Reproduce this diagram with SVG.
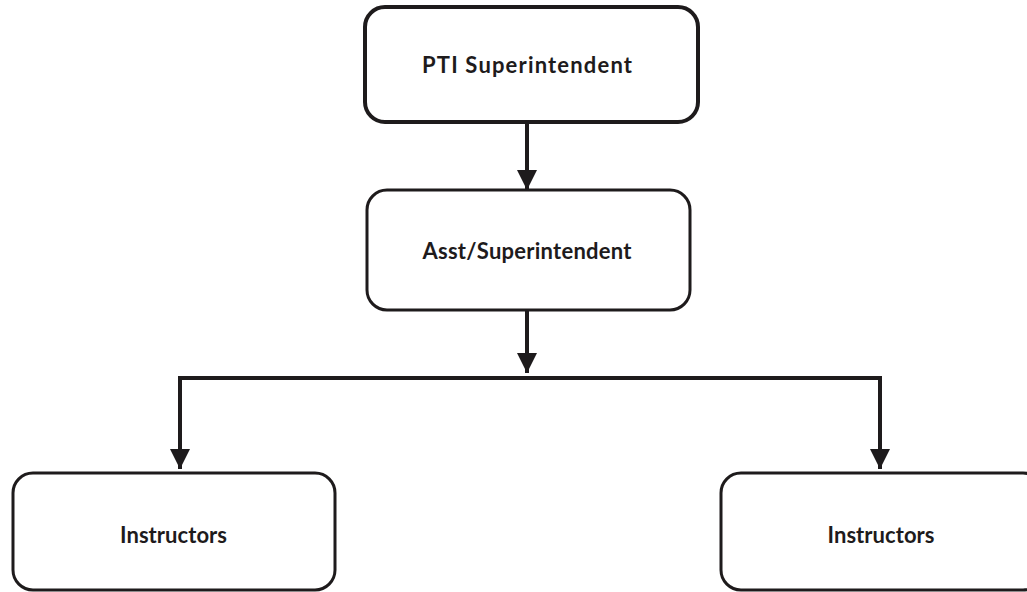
<svg xmlns="http://www.w3.org/2000/svg" width="1027" height="592" viewBox="0 0 1027 592">
<style>
.box{fill:#fff;stroke:#1e1b1c;stroke-width:3}
.lbl{font-family:Lato,"Open Sans",sans-serif;font-weight:bold;font-size:22px;fill:#1e1b1c;text-anchor:middle}
.con{fill:none;stroke:#1e1b1c;stroke-width:4}
</style>
<defs>
<marker id="ah" markerUnits="userSpaceOnUse" markerWidth="20" markerHeight="20" refX="20" refY="10" orient="auto" viewBox="0 0 20 20">
<path d="M0,0 L20,10 L0,20 Z" fill="#1e1b1c"/>
</marker>
</defs>
<rect width="1027" height="592" fill="#fff"/>
<g id="connectors">
<path class="con" d="M527,122 V190" marker-end="url(#ah)"/>
<path class="con" d="M527,310 V373" marker-end="url(#ah)"/>
<path class="con" d="M180,469 V378 H880 V469" stroke-linejoin="miter"/>
<path class="con" d="M180,440 V469" marker-end="url(#ah)"/>
<path class="con" d="M880,440 V469" marker-end="url(#ah)"/>
</g>
<g id="pti">
<rect class="box" x="365" y="7" width="333" height="115" rx="20" style="stroke-width:4"/>
<text class="lbl" x="527" y="73" textLength="210" lengthAdjust="spacing">PTI Superintendent</text>
</g>
<g id="asst">
<rect class="box" x="367" y="190" width="323" height="120" rx="20"/>
<text class="lbl" x="527" y="259" textLength="209" lengthAdjust="spacing">Asst/Superintendent</text>
</g>
<g id="instructors-left">
<rect class="box" x="13" y="473" width="322" height="117" rx="20"/>
<text class="lbl" x="173.5" y="543" textLength="107" lengthAdjust="spacing">Instructors</text>
</g>
<g id="instructors-right">
<rect class="box" x="721" y="473" width="322" height="117" rx="20"/>
<text class="lbl" x="881" y="543" textLength="107" lengthAdjust="spacing">Instructors</text>
</g>
</svg>
